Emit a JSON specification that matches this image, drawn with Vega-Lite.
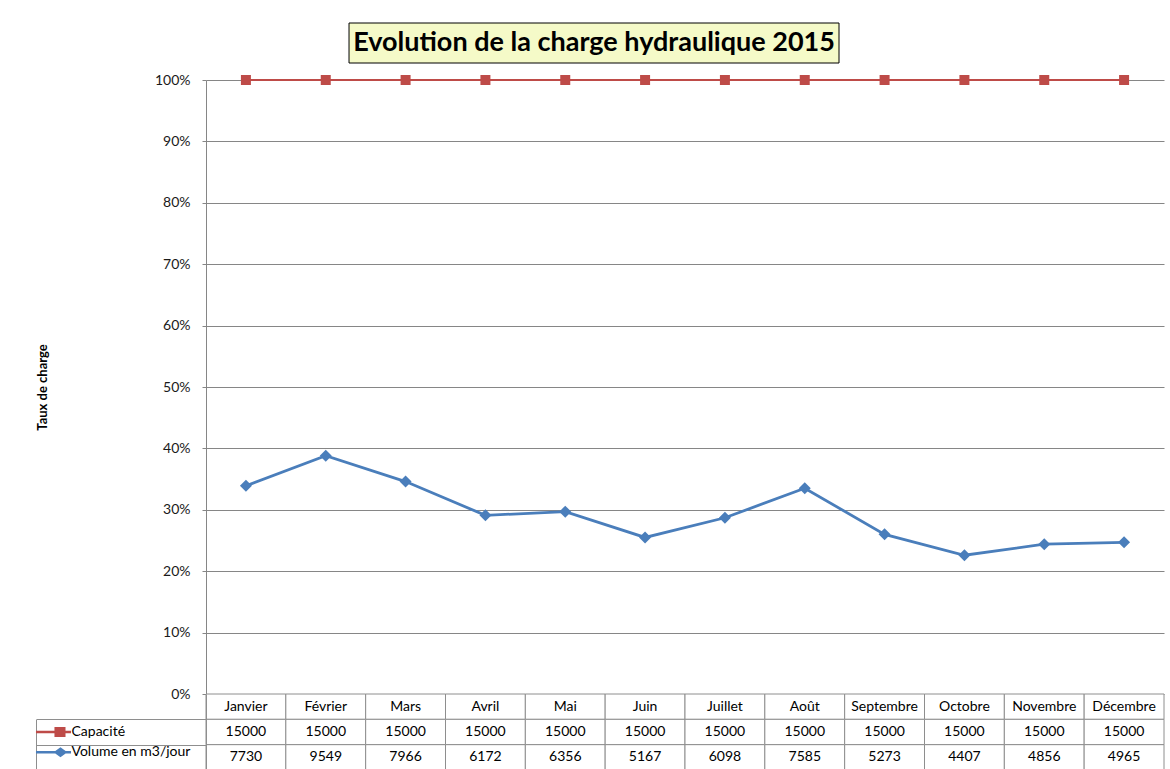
{
  "$schema": "https://vega.github.io/schema/vega-lite/v6.json",
  "background": "white",
  "padding": {"left": 35, "top": 22, "right": 5, "bottom": 1},
  "config": {
    "view": {"stroke": null},
    "font": "Lato",
    "axis": {"labelFont": "Lato", "titleFont": "Lato"},
    "legend": {"labelFont": "Lato", "titleFont": "Lato"}
  },
  "datasets": {
    "mois": [
      {"Mois": "Janvier", "Capacité": 15000, "Volume en m3/jour": 7730, "TauxCapacite": 1, "TauxVolume": 0.339},
      {"Mois": "Février", "Capacité": 15000, "Volume en m3/jour": 9549, "TauxCapacite": 1, "TauxVolume": 0.388},
      {"Mois": "Mars", "Capacité": 15000, "Volume en m3/jour": 7966, "TauxCapacite": 1, "TauxVolume": 0.346},
      {"Mois": "Avril", "Capacité": 15000, "Volume en m3/jour": 6172, "TauxCapacite": 1, "TauxVolume": 0.291},
      {"Mois": "Mai", "Capacité": 15000, "Volume en m3/jour": 6356, "TauxCapacite": 1, "TauxVolume": 0.297},
      {"Mois": "Juin", "Capacité": 15000, "Volume en m3/jour": 5167, "TauxCapacite": 1, "TauxVolume": 0.255},
      {"Mois": "Juillet", "Capacité": 15000, "Volume en m3/jour": 6098, "TauxCapacite": 1, "TauxVolume": 0.287},
      {"Mois": "Août", "Capacité": 15000, "Volume en m3/jour": 7585, "TauxCapacite": 1, "TauxVolume": 0.335},
      {"Mois": "Septembre", "Capacité": 15000, "Volume en m3/jour": 5273, "TauxCapacite": 1, "TauxVolume": 0.260},
      {"Mois": "Octobre", "Capacité": 15000, "Volume en m3/jour": 4407, "TauxCapacite": 1, "TauxVolume": 0.226},
      {"Mois": "Novembre", "Capacité": 15000, "Volume en m3/jour": 4856, "TauxCapacite": 1, "TauxVolume": 0.244},
      {"Mois": "Décembre", "Capacité": 15000, "Volume en m3/jour": 4965, "TauxCapacite": 1, "TauxVolume": 0.247}
    ],
    "titre": [
      {"titre": "Evolution de la charge hydraulique 2015"}
    ]
  },
  "spacing": 0,
  "bounds": "flush",
  "resolve": {"scale": {"color": "independent", "shape": "independent"}},
  "vconcat": [
    {
      "width": 958,
      "height": 57,
      "data": {"name": "titre"},
      "encoding": {
        "x": {"field": "titre", "type": "nominal", "scale": {"type": "band", "paddingInner": 0, "paddingOuter": 0.4776, "align": 0.3056}, "axis": null},
        "y": {"field": "titre", "type": "nominal", "scale": {"type": "band", "paddingInner": 0, "paddingOuter": 0.2125, "align": 0}, "axis": null}
      },
      "layer": [
        {"mark": {"type": "rect", "fill": "#F5FAC8", "stroke": "black", "strokeWidth": 1}},
        {"mark": {"type": "text", "font": "Lato", "fontSize": 27, "fontWeight": "bold", "color": "black"}, "encoding": {"text": {"field": "titre", "type": "nominal"}}}
      ]
    },
    {
      "width": 958,
      "height": 614,
      "data": {"name": "mois"},
      "encoding": {
        "x": {"field": "Mois", "type": "ordinal", "sort": null, "scale": {"type": "point", "padding": 0.5}, "axis": null}
      },
      "layer": [
        {
          "mark": {"type": "line", "color": "#BE4B48", "strokeWidth": 2.2, "point": {"shape": "square", "size": 100, "filled": true, "color": "#BE4B48"}},
          "encoding": {
            "y": {
              "field": "TauxCapacite", "type": "quantitative", "title": "Taux de charge",
              "scale": {"domain": [0, 1]},
              "axis": {
                "format": ".0%", "values": [0, 0.1, 0.2, 0.3, 0.4, 0.5, 0.6, 0.7, 0.8, 0.9, 1],
                "grid": true, "gridColor": "#868686", "gridWidth": 1,
                "domainColor": "#868686", "tickColor": "#868686", "tickSize": 4,
                "labelFontSize": 14, "labelColor": "#1a1a1a", "labelPadding": 12,
                "titleFontSize": 13, "titleFontWeight": "bold", "titleColor": "black", "titlePadding": 105
              }
            }
          }
        },
        {
          "mark": {"type": "line", "color": "#4A7EBB", "strokeWidth": 2.8, "point": {"shape": "diamond", "size": 144, "filled": true, "color": "#4A7EBB"}},
          "encoding": {
            "y": {"field": "TauxVolume", "type": "quantitative", "title": "Taux de charge"}
          }
        }
      ]
    },
    {
      "width": 958,
      "height": 76,
      "data": {"name": "mois"},
      "transform": [{"fold": ["Mois", "Capacité", "Volume en m3/jour"], "as": ["ligne", "valeur"]}],
      "encoding": {
        "x": {"field": "Mois", "type": "ordinal", "sort": null, "scale": {"type": "band", "paddingInner": 0, "paddingOuter": 0}, "axis": null}
      },
      "resolve": {"axis": {"y": "independent"}},
      "layer": [
        {
          "mark": {"type": "rect", "fill": "white", "stroke": "#8e8e8e", "strokeWidth": 1},
          "encoding": {
            "y": {
              "field": "ligne", "type": "ordinal", "sort": ["Mois", "Capacité", "Volume en m3/jour"],
              "scale": {"type": "band", "paddingInner": 0, "paddingOuter": 0},
              "axis": {
                "orient": "left", "title": null, "labels": false, "domain": true, "domainColor": "#8e8e8e",
                "ticks": true, "tickBand": "center", "tickOffset": 12.67, "tickSize": 170, "tickWidth": 1,
                "tickColor": "#8e8e8e"
              }
            }
          }
        },
        {
          "mark": {"type": "text", "font": "Lato", "fontSize": 14, "color": "black"},
          "encoding": {
            "y": {
              "field": "ligne", "type": "ordinal", "sort": ["Mois", "Capacité", "Volume en m3/jour"],
              "axis": {
                "orient": "left", "offset": 170, "title": null, "labels": false, "ticks": false, "grid": false,
                "domain": true, "domainColor": "#8e8e8e", "domainWidth": 1, "domainDash": [0, 25.33, 50.67, 0]
              }
            },
            "text": {"field": "valeur", "type": "nominal"}
          }
        },
        {
          "transform": [{"filter": "datum.ligne !== 'Mois'"}],
          "mark": {"type": "point", "filled": true, "opacity": 0, "size": 576},
          "encoding": {
            "y": {"field": "ligne", "type": "ordinal", "sort": ["Mois", "Capacité", "Volume en m3/jour"], "axis": null},
            "color": {
              "field": "ligne", "type": "nominal",
              "scale": {"domain": ["Capacité", "Volume en m3/jour"], "range": ["#BE4B48", "#4A7EBB"]},
              "legend": {"orient": "none", "legendX": -164.5, "legendY": 26, "title": null, "labelFontSize": 14, "labelColor": "black", "symbolSize": 576, "symbolStrokeWidth": 0, "symbolOpacity": 1, "rowPadding": 1.3, "labelOffset": 6}
            },
            "shape": {
              "field": "ligne", "type": "nominal",
              "scale": {"domain": ["Capacité", "Volume en m3/jour"], "range": ["M-1.46,-0.11H0.08V-0.42H1.0V-0.11H1.46V0.11H1.0V0.42H0.08V0.11H-1.46Z", "M-1.46,-0.11H0.15L0.58,-0.42L1.01,-0.11H1.46V0.11H1.01L0.58,0.42L0.15,0.11H-1.46Z"]},
              "legend": {"orient": "none", "legendX": -164.5, "legendY": 26, "title": null, "labelFontSize": 14, "labelColor": "black", "symbolSize": 576, "symbolStrokeWidth": 0, "symbolOpacity": 1, "rowPadding": 1.3, "labelOffset": 6}
            }
          }
        }
      ]
    }
  ]
}
